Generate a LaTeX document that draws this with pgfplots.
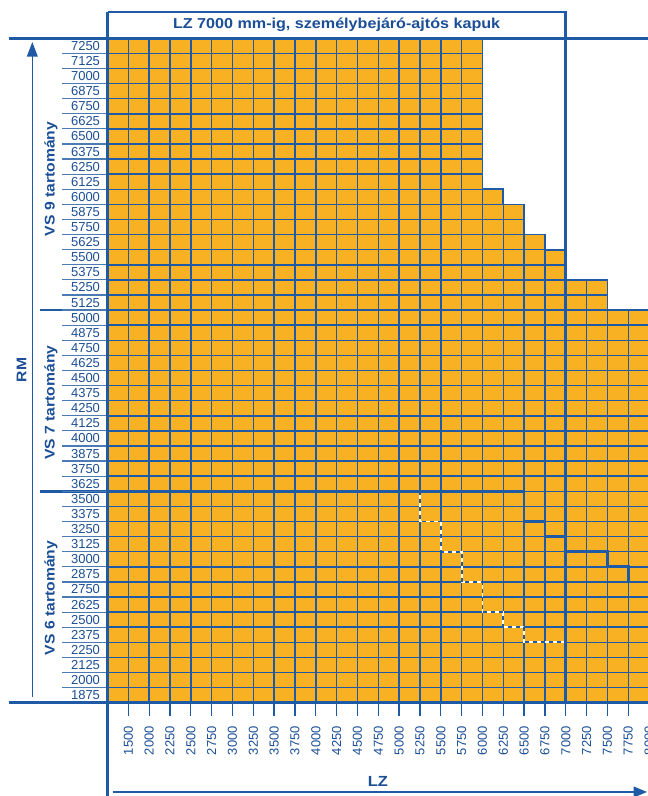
\documentclass[border=0pt]{standalone}
\usepackage{fontspec}
\setmainfont{Liberation Sans}
\newfontfamily\widebold{Liberation Sans Bold}[FakeStretch=1.12]
\usepackage{pgfplots}
\pgfplotsset{compat=1.18}
\usetikzlibrary{arrows.meta}
\definecolor{orng}{RGB}{248,177,35}
\definecolor{lb}{RGB}{30,90,165}
\definecolor{tb}{RGB}{27,78,150}

\begin{document}
\begin{tikzpicture}
\begin{axis}[
  set layers,
  x=15.6225pt, y=0.0906pt,
  xmin=0, xmax=26, ymin=1812.5, ymax=7312.5,
  clip=false,
  axis line style={draw=none},
  tick align=outside,
  major tick length=10pt,
  xtick pos=left, ytick pos=left,
  xtick={1,...,26},
  xticklabels={1500,2000,2250,2500,2750,3000,3250,3500,3750,4000,4250,4500,4750,5000,5250,5500,5750,6000,6250,6500,6750,7000,7250,7500,7750,8000},
  ytick={1875,2000,2125,2250,2375,2500,2625,2750,2875,3000,3125,3250,3375,3500,3625,3750,3875,4000,4125,4250,4375,4500,4625,4750,4875,5000,5125,5250,5375,5500,5625,5750,5875,6000,6125,6250,6375,6500,6625,6750,6875,7000,7125,7250},
  minor ytick={1937.5,2062.5,...,7187.5},
  xmajorgrids=true, ymajorgrids=false, yminorgrids=true,
  grid style={lb, line width=1.1pt},
  minor grid style={lb, line width=1.1pt},
  xtick style={lb, line width=1pt},
  ytick style={draw=none},
  minor tick style={draw=none},
  /pgf/number format/assume math mode=true,
  xticklabel style={rotate=90, anchor=east, xshift=-4pt, text=tb, font=\fontsize{9.75}{10}\selectfont},
  yticklabel style={anchor=center, xshift=-6.5pt, text=tb, font=\fontsize{9.75}{10}\selectfont},
  scaled y ticks=false,
  yticklabel={\pgfmathprintnumber[fixed,1000 sep={}]{\tick}},
]
% orange region: highest RM per LZ column
\addplot[fill=orng, draw=none, on layer=axis background] coordinates {
 (0,1812.5) (0,7312.5) (18,7312.5) (18,6062.5) (19,6062.5) (19,5937.5)
 (20,5937.5) (20,5687.5) (21,5687.5) (21,5562.5) (22,5562.5) (22,5312.5)
 (24,5312.5) (24,5062.5) (26,5062.5) (26,1812.5)} --cycle;
% white complement
\addplot[fill=white, draw=none] coordinates {
 (18,7312.5) (26.5,7312.5) (26.5,5062.5) (24,5062.5) (24,5312.5) (22,5312.5)
 (22,5562.5) (21,5562.5) (21,5687.5) (20,5687.5) (20,5937.5) (19,5937.5)
 (19,6062.5) (18,6062.5)} --cycle;
% staircase outline
\addplot[lb, line width=1.3pt] coordinates {
 (18,7312.5) (18,6062.5) (19,6062.5) (19,5937.5) (20,5937.5) (20,5687.5)
 (21,5687.5) (21,5562.5) (22,5562.5) (22,5312.5) (24,5312.5) (24,5062.5)};
% VS9 / VS7 boundary
\addplot[lb, line width=2pt] coordinates {(-3.24,5062.5) (26.5,5062.5)};
% VS7 / VS6 boundary
\addplot[lb, line width=2pt] coordinates {
 (-3.24,3562.5) (20,3562.5) (20,3312.5) (21,3312.5) (21,3187.5) (22,3187.5)};
\addplot[lb, line width=2pt] coordinates {
 (22,3062.5) (24,3062.5) (24,2937.5) (25,2937.5) (25,2812.5) (26.5,2812.5)};
% dashed boundary
\addplot[white, line width=1.4pt] coordinates {
 (15,3562.5) (15,3312.5) (16,3312.5) (16,3062.5) (17,3062.5) (17,2812.5)
 (18,2812.5) (18,2562.5) (19,2562.5) (19,2437.5) (20,2437.5) (20,2312.5) (22,2312.5)};
\addplot[lb, line width=1.4pt, dash pattern=on 3pt off 3pt] coordinates {
 (15,3562.5) (15,3312.5) (16,3312.5) (16,3062.5) (17,3062.5) (17,2812.5)
 (18,2812.5) (18,2562.5) (19,2562.5) (19,2437.5) (20,2437.5) (20,2312.5) (22,2312.5)};
% label column lines
\pgfplotsinvokeforeach{0,...,44}{
  \draw[lb!80, line width=0.9pt] (axis cs:-2.18,{1812.5+125*#1}) -- (axis cs:0,{1812.5+125*#1});
}
% frame lines
\draw[lb, line width=2pt] (axis cs:-4.73,7312.5) -- (axis cs:26.5,7312.5);
\draw[lb, line width=2pt] (axis cs:-4.73,1812.5) -- (axis cs:26.5,1812.5);
\draw[lb, line width=2pt] (axis cs:0,7530) -- (axis cs:0,1040);
\draw[lb, line width=2pt] (axis cs:0,7530) -- (axis cs:22,7530) -- (axis cs:22,1812.5);
% arrows
\draw[lb, line width=1.1pt, -{Triangle[length=11pt,width=8pt]}] (axis cs:-3.61,1860) -- (axis cs:-3.61,7282);
\draw[lb, line width=1.1pt, -{Triangle[length=10pt,width=8pt]}] (axis cs:0.26,1073.5) -- (axis cs:25.9,1073.5);
% texts
\node[text=tb, font=\widebold\fontsize{10.8}{12}\selectfont] at (axis cs:11,7421) {LZ 7000 mm-ig, személybejáró-ajtós kapuk};
\node[rotate=90, text=tb, font=\widebold\fontsize{10.5}{12}\selectfont] at (axis cs:-4.12,4566) {RM};
\node[rotate=90, text=tb, font=\widebold\fontsize{10.5}{12}\selectfont] at (axis cs:-2.71,6148) {VS 9 tartomány};
\node[rotate=90, text=tb, font=\widebold\fontsize{10.5}{12}\selectfont] at (axis cs:-2.71,4297) {VS 7 tartomány};
\node[rotate=90, text=tb, font=\widebold\fontsize{10.5}{12}\selectfont] at (axis cs:-2.71,2679) {VS 6 tartomány};
\node[text=tb, font=\widebold\fontsize{11}{12}\selectfont] at (axis cs:12.98,1164) {LZ};
\coordinate (bbSW) at (axis cs:-5.161,1040.2);
\coordinate (bbNE) at (axis cs:25.9,7629.5);
\end{axis}
\pgfresetboundingbox
\useasboundingbox (bbSW) rectangle (bbNE);
\end{tikzpicture}
\end{document}
